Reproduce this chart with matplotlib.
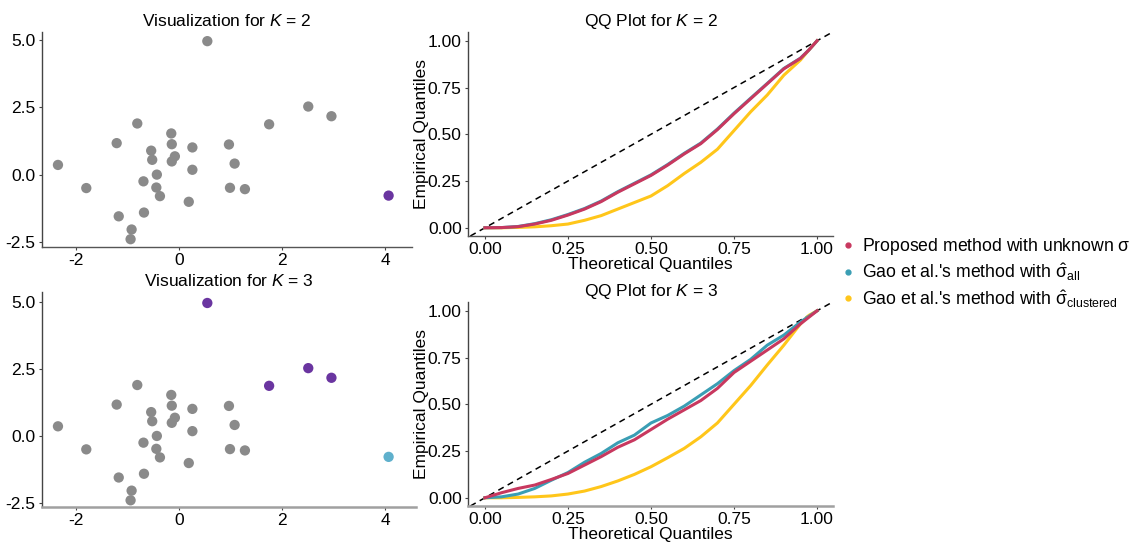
import matplotlib
matplotlib.use("Agg")
import matplotlib.pyplot as plt
from matplotlib.lines import Line2D
import numpy as np

plt.rcParams['font.family'] = ['Liberation Sans', 'DejaVu Sans']
plt.rcParams['mathtext.fontset'] = 'custom'
plt.rcParams['mathtext.rm'] = 'Liberation Sans'
plt.rcParams['mathtext.it'] = 'Liberation Sans:italic'
plt.rcParams['mathtext.sf'] = 'Liberation Sans'

# ---------------- data ----------------
pt_x = [0.55, 2.51, 2.96, 1.75, -0.81, -0.15, -1.21, -0.14, -0.54, 0.26,
        0.97, -0.08, -0.14, -0.52, 0.26, 1.08, -2.35, -0.43, -0.69, -1.80,
        -0.44, -0.37, 0.99, 1.28, 0.19, -0.68, -1.17, -0.92, -0.94, 4.07]
pt_y = [4.96, 2.53, 2.17, 1.87, 1.90, 1.53, 1.17, 1.13, 0.89, 1.01,
        1.12, 0.68, 0.49, 0.55, 0.18, 0.41, 0.36, 0.00, -0.25, -0.50,
        -0.48, -0.80, -0.49, -0.54, -1.01, -1.41, -1.55, -2.04, -2.40, -0.78]
cluster_k2 = [1] * 29 + [2]
cluster_k3 = [2, 2, 2, 2] + [1] * 25 + [3]

qq_x = [0.0, 0.05, 0.10, 0.15, 0.20, 0.25, 0.30, 0.35, 0.40, 0.45, 0.50,
        0.55, 0.60, 0.65, 0.70, 0.75, 0.80, 0.85, 0.90, 0.95, 0.975, 1.0]
# K = 2
k2_prop = [0.0, 0.001, 0.006, 0.02, 0.04, 0.068, 0.10, 0.14, 0.19, 0.235, 0.28,
           0.335, 0.395, 0.45, 0.525, 0.61, 0.69, 0.77, 0.85, 0.906, 0.95, 1.0]
k2_all = [0.0, 0.001, 0.007, 0.022, 0.043, 0.071, 0.103, 0.143, 0.193, 0.238, 0.283,
          0.338, 0.398, 0.453, 0.528, 0.613, 0.693, 0.772, 0.852, 0.907, 0.95, 1.0]
k2_clus = [0.0, 0.0, 0.002, 0.005, 0.011, 0.02, 0.04, 0.065, 0.10, 0.135, 0.17,
           0.225, 0.29, 0.35, 0.42, 0.52, 0.62, 0.71, 0.816, 0.897, 0.95, 1.0]
# K = 3
k3_prop = [0.0, 0.027, 0.05, 0.068, 0.098, 0.13, 0.175, 0.22, 0.27, 0.31, 0.365,
           0.42, 0.47, 0.52, 0.585, 0.67, 0.73, 0.79, 0.85, 0.93, 0.965, 1.0]
k3_all = [0.0, 0.005, 0.02, 0.05, 0.094, 0.135, 0.19, 0.237, 0.294, 0.335, 0.40,
          0.44, 0.49, 0.55, 0.61, 0.68, 0.74, 0.816, 0.87, 0.94, 0.97, 1.0]
k3_clus = [0.0, 0.0, 0.002, 0.005, 0.01, 0.02, 0.036, 0.06, 0.09, 0.125, 0.166,
           0.214, 0.264, 0.326, 0.40, 0.50, 0.60, 0.71, 0.816, 0.93, 0.975, 1.0]

x_ticks_sc = [-2, 0, 2, 4]
y_ticks_sc = [-2.5, 0.0, 2.5, 5.0]
qq_ticks = [0.0, 0.25, 0.5, 0.75, 1.0]

col_grey = '#8a8a8a'
col_purple = '#6a35a0'
col_lblue = '#5fb0cc'
cluster_colors = {1: col_grey, 2: col_purple, 3: col_lblue}
col_prop = '#c8385f'
col_all = '#3a9eb4'
col_clus = '#ffc61a'

legend_labels = ["Proposed method with unknown $\\mathrm{\\sigma}$",
                 "Gao et al.'s method with $\\hat{\\mathrm{\\sigma}}_{\\mathrm{all}}$",
                 "Gao et al.'s method with $\\hat{\\mathrm{\\sigma}}_{\\mathrm{clustered}}$"]

W, H = 1135, 546
fig = plt.figure(figsize=(W / 100, H / 100), dpi=100)


def ax_px(l, r, t, b):
    return fig.add_axes([l / W, 1 - b / H, (r - l) / W, (b - t) / H])


FS = 12.5


def style(ax, xcol='#444444', xlw=1.0):
    for s in ['top', 'right']:
        ax.spines[s].set_visible(False)
    ax.spines['left'].set_color('#444444')
    ax.spines['left'].set_linewidth(1.0)
    ax.spines['bottom'].set_color(xcol)
    ax.spines['bottom'].set_linewidth(xlw)
    ax.tick_params(labelsize=FS, length=2.5, width=0.8, color='#444444', pad=2)


ax1 = ax_px(42, 412, 32, 247)
ax2 = ax_px(42, 416, 292, 507)
ax3 = ax_px(468, 833, 32, 236)
ax4 = ax_px(468, 833, 302, 506)

for ax, cl, k, xcol, xlw, ylim in [(ax1, cluster_k2, 2, '#555555', 1.0, (-2.69, 5.3)),
                                   (ax2, cluster_k3, 3, '#a0a0a0', 1.8, (-2.65, 5.37))]:
    cols = [cluster_colors[c] for c in cl]
    ax.scatter(pt_x, pt_y, c=cols, s=55, edgecolors='none', zorder=3)
    ax.set_xlim(-2.66, (ax.get_position().x1 * W - 179) / 51.5)
    ax.set_ylim(*ylim)
    ax.set_xticks(x_ticks_sc)
    ax.set_yticks(y_ticks_sc)
    ax.set_yticklabels(['-2.5', '0.0', '2.5', '5.0'])
    ax.set_xticklabels(['-2', '0', '2', '4'])
    style(ax, xcol, xlw)
    ax.set_title(f"Visualization for $K$ = {k}", fontsize=FS, pad=4)

for ax, k, prop, alls, clus, xcol, xlw in [(ax3, 2, k2_prop, k2_all, k2_clus, '#555555', 1.0),
                                            (ax4, 3, k3_prop, k3_all, k3_clus, '#a0a0a0', 1.8)]:
    ax.set_xlim(-0.051, 1.048)
    ax.set_ylim(-0.044, 1.047)
    ax.plot([-0.1, 1.1], [-0.1, 1.1], ls=(0, (4, 3)), color='black', lw=1.1, zorder=2)
    ax.plot(qq_x, clus, color=col_clus, lw=2.2, zorder=3)
    ax.plot(qq_x, alls, color=col_all, lw=2.2, zorder=4)
    ax.plot(qq_x, prop, color=col_prop, lw=2.2, zorder=5)
    ax.set_xticks(qq_ticks)
    ax.set_yticks(qq_ticks)
    ax.set_xticklabels(['0.00', '0.25', '0.50', '0.75', '1.00'])
    ax.set_yticklabels(['0.00', '0.25', '0.50', '0.75', '1.00'])
    style(ax, xcol, xlw)
    ax.set_title(f"QQ Plot for $K$ = {k}", fontsize=FS, pad=4)
    ax.set_xlabel("Theoretical Quantiles", fontsize=FS, labelpad=0)
    ax.set_ylabel("Empirical Quantiles", fontsize=FS, labelpad=-1)

handles = [Line2D([], [], ls='none', marker='o', markersize=3.5, color=c)
           for c in [col_prop, col_all, col_clus]]
fig.legend(handles, legend_labels, loc='center left',
           bbox_to_anchor=(843 / W, 1 - 273 / H), frameon=False, fontsize=12.7,
           handlelength=0.6, handletextpad=0.45, labelspacing=0.25, borderaxespad=0,
           borderpad=0)

fig.savefig("out.png", dpi=100)
